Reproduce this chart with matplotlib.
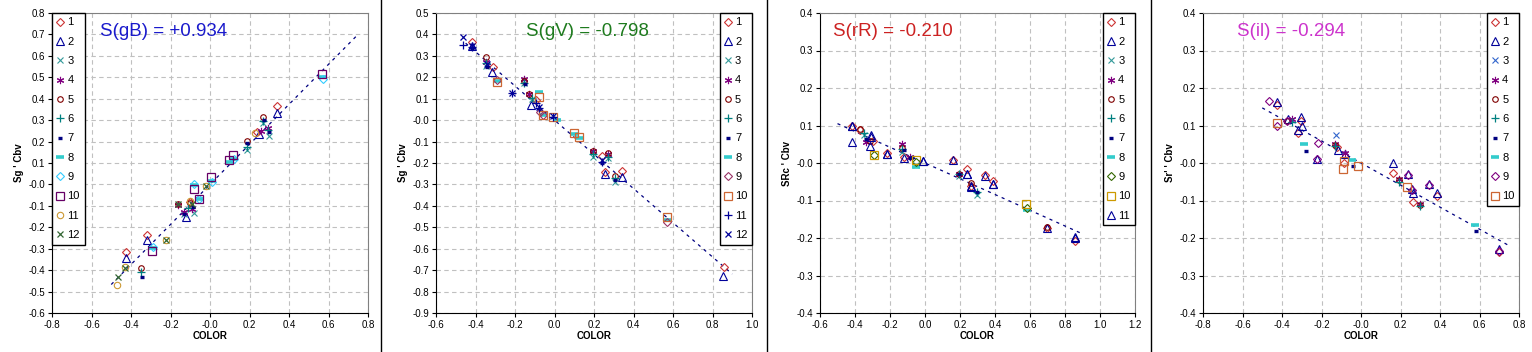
import matplotlib
matplotlib.use("Agg")
import matplotlib.pyplot as plt
from matplotlib.lines import Line2D
import numpy as np

plt.rcParams['font.family'] = ['Liberation Sans', 'DejaVu Sans']
plt.rcParams['axes.unicode_minus'] = False

# ---- panel 1 : S(gB) ----
gb_labels = ['1', '2', '3', '4', '5', '6', '7', '8', '9', '10', '11', '12']
gb_x = [
    [-0.425, -0.321, -0.10, 0.239, 0.341],
    [-0.425, -0.321, -0.119, 0.248, 0.341],
    [-0.08, -0.13, 0.188, 0.268, 0.299],
    [-0.161, -0.131, -0.09, 0.256, 0.295],
    [-0.351, -0.161, -0.10, 0.188, 0.268],
    [-0.351, -0.109, 0.188, 0.268, 0.295],
    [-0.345, -0.131, -0.085, 0.188, 0.273, 0.299],
    [-0.29, -0.081, -0.055, 0.008, 0.098, 0.12, 0.57],
    [-0.287, -0.081, -0.055, 0.008, 0.12, 0.571],
    [-0.294, -0.081, -0.055, 0.007, 0.094, 0.115, 0.568],
    [-0.472, -0.429, -0.223, -0.103, -0.022, 0.227],
    [-0.467, -0.429, -0.223, -0.161, -0.092, -0.022],
]
gb_y = [
    [-0.317, -0.238, -0.08, 0.247, 0.364],
    [-0.345, -0.257, -0.152, 0.236, 0.333],
    [-0.132, -0.14, 0.16, 0.286, 0.228],
    [-0.095, -0.13, -0.115, 0.25, 0.262],
    [-0.392, -0.092, -0.085, 0.205, 0.317],
    [-0.408, -0.108, 0.174, 0.294, 0.255],
    [-0.434, -0.14, -0.105, 0.193, 0.30, 0.245],
    [-0.295, -0.003, -0.066, 0.015, 0.104, 0.118, 0.50],
    [-0.29, 0.0, -0.07, 0.012, 0.12, 0.49],
    [-0.309, -0.022, -0.069, 0.033, 0.116, 0.139, 0.516],
    [-0.469, -0.385, -0.257, -0.077, -0.006, 0.24],
    [-0.431, -0.39, -0.26, -0.092, -0.089, -0.008],
]
gb_slope = 0.934
gb_fit_x = [-0.5, 0.75]

# ---- panel 2 : S(gV) ----
gv_labels = ['1', '2', '3', '4', '5', '6', '7', '8', '9', '10', '11', '12']
gv_x = [
    [-0.419, -0.31, -0.095, 0.239, 0.256, 0.342, 0.858],
    [-0.419, -0.315, -0.12, 0.256, 0.342, 0.855],
    [-0.347, -0.153, -0.115, 0.197, 0.273, 0.306],
    [-0.347, -0.153, -0.128, 0.197, 0.273],
    [-0.347, -0.153, -0.128, 0.197, 0.273, 0.306],
    [-0.347, -0.153, -0.115, 0.197, 0.273, 0.306],
    [-0.419, -0.34, -0.15, -0.077, 0.239, 0.306],
    [-0.29, -0.08, -0.057, 0.011, 0.099, 0.126, 0.571],
    [-0.29, -0.075, -0.057, 0.571],
    [-0.29, -0.08, -0.057, -0.006, 0.099, 0.126, 0.571],
    [-0.465, -0.419, -0.217, -0.095, -0.077, -0.01, 0.239],
    [-0.462, -0.419, -0.34, -0.217, -0.077, -0.01, 0.239],
]
gv_y = [
    [0.366, 0.25, 0.094, -0.167, -0.24, -0.237, -0.684],
    [0.345, 0.226, 0.071, -0.25, -0.267, -0.727],
    [0.253, 0.175, 0.10, -0.17, -0.175, -0.287],
    [0.27, 0.19, 0.12, -0.145, -0.158],
    [0.293, 0.182, 0.122, -0.143, -0.152, -0.262],
    [0.265, 0.172, 0.105, -0.16, -0.17, -0.27],
    [0.335, 0.25, 0.17, 0.05, -0.2, -0.28],
    [0.183, 0.133, 0.024, 0.001, -0.065, -0.085, -0.465],
    [0.185, 0.04, 0.022, -0.474],
    [0.18, 0.109, 0.024, 0.016, -0.059, -0.077, -0.453],
    [0.351, 0.34, 0.125, 0.078, 0.055, 0.015, -0.194],
    [0.387, 0.345, 0.26, 0.128, 0.06, 0.018, -0.185],
]
gv_slope = -0.798
gv_fit_x = [-0.45, 0.9]

# ---- panel 3 : S(rR) ----
rr_labels = ['1', '2', '3', '4', '5', '6', '7', '8', '9', '10', '11']
rr_x = [
    [-0.419, -0.371, -0.30, -0.219, -0.118, 0.162, 0.238, 0.263, 0.343, 0.387, 0.699, 0.859],
    [-0.419, -0.419, -0.31, -0.219, -0.118, -0.013, 0.162, 0.238, 0.263, 0.343, 0.387, 0.699, 0.859],
    [-0.349, -0.131, -0.051, 0.196, 0.299],
    [-0.337, -0.131, -0.086, 0.196],
    [-0.371, -0.314, -0.131, 0.196, 0.263, 0.699],
    [-0.349, -0.131, 0.196, 0.299],
    [-0.34, -0.12, -0.086, -0.076, 0.196, 0.299],
    [-0.051, 0.581],
    [-0.291, -0.051, 0.581],
    [-0.291, -0.051, 0.577],
    [-0.419, -0.314, -0.31, -0.219, -0.013, 0.238, 0.263, 0.387, 0.859],
]
rr_y = [
    [0.10, 0.088, 0.058, 0.026, 0.016, 0.009, -0.017, -0.062, -0.032, -0.048, -0.172, -0.209],
    [0.098, 0.055, 0.075, 0.024, 0.014, 0.005, 0.007, -0.029, -0.06, -0.034, -0.057, -0.172, -0.199],
    [0.075, 0.03, -0.004, -0.035, -0.086],
    [0.055, 0.05, 0.016, -0.028],
    [0.09, 0.06, 0.04, -0.028, -0.052, -0.17],
    [0.08, 0.038, -0.03, -0.076],
    [0.065, 0.036, 0.014, 0.016, -0.029, -0.078],
    [-0.01, -0.125],
    [0.022, 0.004, -0.12],
    [0.022, 0.008, -0.11],
    [0.1, 0.045, 0.07, 0.025, 0.005, -0.028, -0.065, -0.055, -0.197],
]
rr_slope = -0.210
rr_fit_x = [-0.5, 0.89]

# ---- panel 4 : S(il) ----
il_labels = ['1', '2', '3', '4', '5', '6', '7', '8', '9', '10']
il_x = [
    [-0.424, -0.304, -0.317, -0.12, -0.085, 0.164, 0.262, 0.386, 0.70],
    [-0.424, -0.37, -0.304, -0.30, -0.317, -0.221, -0.115, -0.081, 0.164, 0.24, 0.257,
     0.262, 0.346, 0.386, 0.70],
    [-0.351, -0.128],
    [-0.351, -0.132, -0.081, 0.194, 0.299],
    [-0.376, -0.132, 0.194, 0.299],
    [-0.351, -0.132, 0.194, 0.299],
    [-0.28, -0.039, 0.582],
    [-0.289, -0.047, 0.577],
    [-0.464, -0.427, -0.376, -0.216, -0.221, 0.24, 0.257, 0.346, 0.70],
    [-0.427, -0.085, -0.093, -0.015, 0.231],
]
il_y = [
    [0.154, 0.112, 0.08, 0.043, 0.0, -0.026, -0.103, -0.088, -0.236],
    [0.163, 0.118, 0.122, 0.10, 0.088, 0.012, 0.035, 0.024, 0.001, -0.03, -0.07,
     -0.08, -0.056, -0.079, -0.228],
    [0.115, 0.075],
    [0.117, 0.05, 0.028, -0.042, -0.11],
    [0.113, 0.048, -0.045, -0.112],
    [0.11, 0.045, -0.05, -0.115],
    [0.033, -0.008, -0.18],
    [0.052, 0.008, -0.165],
    [0.166, 0.10, 0.113, 0.054, 0.01, -0.032, -0.072, -0.059, -0.234],
    [0.106, 0.005, -0.017, -0.008, -0.065],
]
il_slope = -0.294
il_fit_x = [-0.5, 0.75]

W, H = 1532, 352

# marker styles: (marker, color, size, edge width, hollow)
common = [
    ('D', '#CC3333', 4.4, 0.8, True),
    ('^', '#000099', 5.2, 0.8, True),
    ('x', '#339999', 4.6, 0.8, False),
    ((6, 2, 0), '#800080', 5.2, 0.8, False),
    ('o', '#800000', 4.0, 0.8, True),
    ('+', '#008080', 5.2, 0.9, False),
    ('_', '#000080', 3.5, 2.4, False),
    ('_', '#33CCCC', 5.5, 2.6, False),
]
styles = {
    'gb': common + [('D', '#33CCFF', 4.4, 0.8, True), ('s', '#660066', 5.2, 0.9, True),
                    ('o', '#CC9933', 4.6, 0.8, True), ('x', '#336633', 4.6, 0.9, False)],
    'gv': common + [('D', '#993366', 4.4, 0.8, True), ('s', '#CC6633', 5.2, 0.9, True),
                    ('+', '#000099', 5.2, 0.9, False), ('x', '#000099', 4.6, 0.9, False)],
    'rr': common + [('D', '#336600', 4.4, 0.8, True), ('s', '#CC9900', 5.2, 0.9, True),
                    ('^', '#000099', 5.2, 0.8, True)],
    'il': [common[0], common[1], ('x', '#3366CC', 4.6, 0.8, False)] + common[3:] +
          [('D', '#800080', 4.4, 0.8, True), ('s', '#CC6633', 5.2, 0.9, True)],
}

panels = [
    dict(key='gb', xs=gb_x, ys=gb_y, labels=gb_labels, slope=gb_slope, fit=gb_fit_x,
         px=(52, 368), xlim=(-0.8, 0.8), ylim=(-0.6, 0.8),
         ylabel="Sg ' Cbv", text='S(gB) = +0.934', tcol='#1A1ACC', tx=0.152, leg='upper left'),
    dict(key='gv', xs=gv_x, ys=gv_y, labels=gv_labels, slope=gv_slope, fit=gv_fit_x,
         px=(436, 752), xlim=(-0.6, 1.0), ylim=(-0.9, 0.5),
         ylabel="Sg ' Cbv", text='S(gV) = -0.798', tcol='#1E7B1E', tx=0.285, leg='upper right'),
    dict(key='rr', xs=rr_x, ys=rr_y, labels=rr_labels, slope=rr_slope, fit=rr_fit_x,
         px=(820, 1135), xlim=(-0.6, 1.2), ylim=(-0.4, 0.4),
         ylabel="SRc ' Cbv", text='S(rR) = -0.210', tcol='#CC2222', tx=0.041, leg='upper right'),
    dict(key='il', xs=il_x, ys=il_y, labels=il_labels, slope=il_slope, fit=il_fit_x,
         px=(1203, 1519), xlim=(-0.8, 0.8), ylim=(-0.4, 0.4),
         ylabel="Sr' ' Cbv", text='S(il) = -0.294', tcol='#CC33CC', tx=0.108, leg='upper right'),
]

fig = plt.figure(figsize=(W / 100, H / 100), dpi=100)
fig.patch.set_facecolor('white')

top, bottom = 13, 313
for p in panels:
    l, r = p['px']
    ax = fig.add_axes([l / W, 1 - bottom / H, (r - l) / W, (bottom - top) / H])
    handles = []
    for xs, ys, lab, st in zip(p['xs'], p['ys'], p['labels'], styles[p['key']]):
        m, c, ms, mew, hollow = st
        h, = ax.plot(xs, ys, linestyle='none', marker=m, markersize=ms, markeredgewidth=mew,
                     markeredgecolor=c, markerfacecolor='none' if hollow else c,
                     label=lab, zorder=3)
        handles.append(h)
    # fitted slope line
    fx = np.array(p['fit'])
    ax.plot(fx, p['slope'] * fx, color='#000080', lw=0.9, linestyle=(0, (2.5, 3.5)), zorder=2)

    ax.set_xlim(*p['xlim'])
    ax.set_ylim(*p['ylim'])
    ax.set_xticks(np.round(np.arange(p['xlim'][0], p['xlim'][1] + 0.001, 0.2), 1))
    ax.set_yticks(np.round(np.arange(p['ylim'][0], p['ylim'][1] + 0.001, 0.1), 1))
    ax.xaxis.set_major_formatter(matplotlib.ticker.FormatStrFormatter('%.1f'))
    ax.yaxis.set_major_formatter(matplotlib.ticker.FormatStrFormatter('%.1f'))
    ax.tick_params(direction='out', length=3, width=0.8, labelsize=7, pad=2)
    ax.grid(True, color='#C0C0C0', linestyle=(0, (4, 3)), linewidth=0.8)
    ax.set_axisbelow(True)
    for s in ('top', 'right'):
        ax.spines[s].set_color('#808080')
    for s in ('left', 'bottom'):
        ax.spines[s].set_color('black')
    ax.set_xlabel('COLOR', fontsize=7, fontweight='bold', labelpad=1)
    ax.set_ylabel(p['ylabel'], fontsize=7, fontweight='bold', labelpad=3)

    ax.text(p['tx'], 0.937, p['text'], transform=ax.transAxes, fontsize=13.5,
            color=p['tcol'], ha='left', va='center')

    leg = ax.legend(handles=handles, loc=p['leg'], borderaxespad=0, fancybox=False,
                    edgecolor='black', framealpha=1, fontsize=8, handlelength=0.7,
                    handletextpad=0.3, labelspacing=0.84, borderpad=0.4)
    leg.get_frame().set_linewidth(1.0)

# panel separators
for sx in (381, 767, 1151):
    fig.add_artist(Line2D([sx / W, sx / W], [0, 1], transform=fig.transFigure,
                          color='black', lw=1.0))

fig.savefig('out.png', dpi=100)
